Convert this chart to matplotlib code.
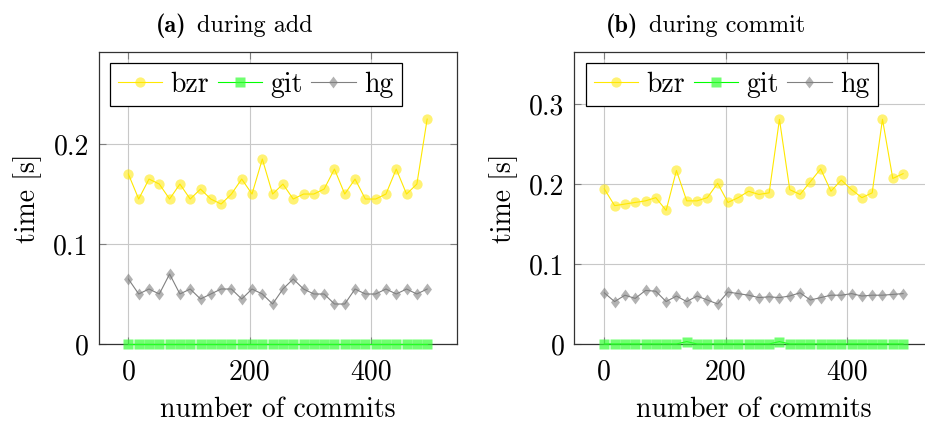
import matplotlib
import matplotlib.pyplot as plt

matplotlib.use("Agg")

plt.rcParams["font.family"] = ["cmr10", "DejaVu Serif"]
plt.rcParams["mathtext.fontset"] = "cm"
plt.rcParams["axes.unicode_minus"] = False

# data
commits = [0, 17, 34, 51, 68, 85, 102, 119, 136, 153, 170, 187, 204, 221, 238,
           255, 272, 289, 306, 323, 340, 357, 374, 391, 408, 425, 442, 459, 476, 493]

add_bzr = [0.170, 0.145, 0.165, 0.160, 0.145, 0.160, 0.145, 0.155, 0.145, 0.140,
           0.150, 0.165, 0.150, 0.185, 0.150, 0.160, 0.145, 0.150, 0.150, 0.155,
           0.175, 0.150, 0.165, 0.145, 0.145, 0.150, 0.175, 0.150, 0.160, 0.225]
add_git = [0.0] * 30
add_hg = [0.065, 0.050, 0.055, 0.050, 0.070, 0.050, 0.055, 0.045, 0.050, 0.055,
          0.055, 0.045, 0.055, 0.050, 0.040, 0.055, 0.065, 0.055, 0.050, 0.050,
          0.040, 0.040, 0.055, 0.050, 0.050, 0.055, 0.050, 0.055, 0.050, 0.055]

commit_bzr = [0.194, 0.173, 0.175, 0.177, 0.179, 0.183, 0.167, 0.217, 0.179, 0.179,
              0.183, 0.201, 0.177, 0.183, 0.191, 0.187, 0.189, 0.281, 0.193, 0.187,
              0.203, 0.219, 0.191, 0.205, 0.193, 0.183, 0.189, 0.281, 0.207, 0.213]
commit_git = [0.0, 0.0, 0.0, 0.0, 0.0, 0.0, 0.0, 0.0, 0.003, 0.0,
              0.0, 0.0, 0.0, 0.0, 0.0, 0.0, 0.0, 0.003, 0.0, 0.0,
              0.0, 0.0, 0.0, 0.0, 0.0, 0.0, 0.0, 0.0, 0.0, 0.0]
commit_hg = [0.064, 0.053, 0.061, 0.057, 0.067, 0.066, 0.053, 0.060, 0.053, 0.060,
             0.055, 0.050, 0.065, 0.063, 0.061, 0.058, 0.059, 0.058, 0.060, 0.064,
             0.055, 0.058, 0.061, 0.061, 0.063, 0.060, 0.061, 0.061, 0.062, 0.063]

series_names = ["bzr", "git", "hg"]
xticks = [0, 200, 400]
xtick_labels = ["0", "200", "400"]
add_yticks = [0, 0.1, 0.2]
add_ytick_labels = ["0", "0.1", "0.2"]
commit_yticks = [0, 0.1, 0.2, 0.3]
commit_ytick_labels = ["0", "0.1", "0.2", "0.3"]
title_tags = ["(a)", "(b)"]
title_texts = ["during add", "during commit"]

# styles
diamond = [(0, 1), (0.75, 0), (0, -1), (-0.75, 0), (0, 1)]  # pgfplots-like diamond*
styles = [
    dict(color="#ffe800", marker="o", ms=7.4, mfc=(1.0, 0.91, 0.0, 0.55), mec="none"),
    dict(color="#00ff00", marker="s", ms=7.0, mfc=(0.2, 1.0, 0.2, 0.7), mec="none"),
    dict(color="#808080", marker=diamond, ms=8.6, mfc=(0.5, 0.5, 0.5, 0.6), mec="none"),
]
FS = 20

fig = plt.figure(figsize=(9.25, 4.23), dpi=100)
ax_a = fig.add_axes([0.1065, 0.1868, 0.3876, 0.690])
ax_b = fig.add_axes([0.621, 0.1868, 0.3876, 0.690])

panels = [
    (ax_a, [add_bzr, add_git, add_hg], 0.292, add_yticks, add_ytick_labels),
    (ax_b, [commit_bzr, commit_git, commit_hg], 0.365, commit_yticks, commit_ytick_labels),
]

for ax, ys, ymax, yt, ytl in panels:
    for name, y, st in zip(series_names, ys, styles):
        ax.plot(commits, y, lw=0.8, label=name, clip_on=False, zorder=3, **st)
    ax.set_xlim(-49.3, 542.3)
    ax.set_ylim(0, ymax)
    ax.set_xticks(xticks)
    ax.set_xticklabels(xtick_labels)
    ax.set_yticks(yt)
    ax.set_yticklabels(ytl)
    ax.grid(True, color="#c8c8c8", linewidth=0.8)
    ax.set_axisbelow(True)
    ax.tick_params(direction="in", length=5, width=0.8, color="#7f7f7f",
                   labelsize=FS, top=True, right=True)
    ax.tick_params(axis="x", pad=11)
    ax.tick_params(axis="y", pad=7)
    for s in ax.spines.values():
        s.set_linewidth(0.9)
        s.set_color("#333333")
    ax.set_xlabel("number of commits", fontsize=FS, labelpad=8)
    ax.set_ylabel("time [s]", fontsize=FS, labelpad=8)
    leg = ax.legend(loc="upper left", ncol=3, fontsize=FS, frameon=True,
                    fancybox=False, edgecolor="black", framealpha=1,
                    borderaxespad=0.4, handlelength=1.6, handletextpad=0.3,
                    columnspacing=0.3, borderpad=0.3)
    leg.get_frame().set_linewidth(0.9)

# panel titles: bold tag + roman text
title_y = 1 - 32 / 423
for tag, txt, xr, xl in zip(title_tags, title_texts, [186, 638], [197, 649]):
    fig.text(xr / 925, title_y, tag, fontsize=17.5, family="cmb10",
             ha="right", va="baseline")
    fig.text(xl / 925, title_y, txt, fontsize=17.5, ha="left", va="baseline")

fig.savefig("out.png", dpi=100)
